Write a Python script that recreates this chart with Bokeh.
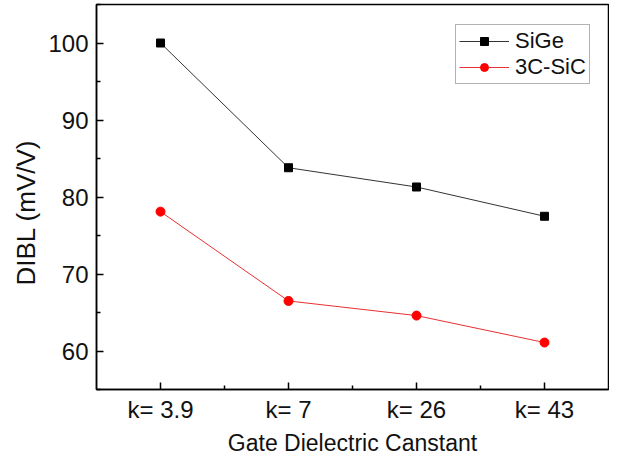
from bokeh.plotting import figure
from bokeh.models import FixedTicker, Legend, LegendItem, Range1d, Title
from bokeh.embed import file_html
from bokeh.resources import INLINE

categories = ["k= 3.9", "k= 7", "k= 26", "k= 43"]
sige = [100.0, 83.8, 81.3, 77.5]
sic = [78.1, 66.5, 64.6, 61.1]
y_ticks = [60, 70, 80, 90, 100]
y_minor = [55, 65, 75, 85, 95, 105]

xs = list(range(1, len(categories) + 1))
FONT = "Liberation Sans"

p = figure(frame_width=512, frame_height=385, output_backend="svg", toolbar_location=None,
           min_border_left=96, min_border_right=1, min_border_top=4, min_border_bottom=68,
           x_range=Range1d(0.5, len(categories) + 0.5), y_range=Range1d(55, 105))
p.background_fill_color = "white"
p.border_fill_color = "white"
p.outline_line_color = "black"
p.outline_line_width = 1.5
p.xgrid.visible = False
p.ygrid.visible = False

l1 = p.line(xs, sige, line_color="#333333", line_width=1)
m1 = p.scatter(xs, sige, marker="square", size=8, fill_color="black", line_color="black")
l2 = p.line(xs, sic, line_color="#e83030", line_width=1)
m2 = p.scatter(xs, sic, marker="circle", size=9, fill_color="#ff0000", line_color="#ff0000")

p.xaxis.ticker = FixedTicker(ticks=xs, minor_ticks=[x + 0.5 for x in xs[:-1]])
p.xaxis.major_label_overrides = {x: c for x, c in zip(xs, categories)}
p.yaxis.ticker = FixedTicker(ticks=y_ticks, minor_ticks=y_minor)

for ax in (p.xaxis[0], p.yaxis[0]):
    ax.axis_line_color = "black"
    ax.axis_line_width = 1.5
    ax.major_tick_in = 7
    ax.major_tick_out = 0
    ax.minor_tick_in = 4
    ax.minor_tick_out = 0
    ax.major_tick_line_color = "black"
    ax.minor_tick_line_color = "black"
    ax.major_tick_line_width = 1.5
    ax.minor_tick_line_width = 1.5
    ax.major_label_text_font = FONT
    ax.major_label_text_font_size = "24px"
    ax.major_label_text_color = "#111111"
    ax.axis_label_text_font = FONT
    ax.axis_label_text_font_style = "normal"
    ax.axis_label_text_color = "#111111"

p.xaxis.axis_label = "Gate Dielectric Canstant"
p.xaxis.axis_label_text_font_size = "23px"
p.xaxis.major_label_standoff = 6
p.xaxis.axis_label_standoff = 4
p.yaxis.major_label_standoff = 8

ytitle = Title(text="DIBL (mV/V)", align="left", offset=104, standoff=10,
               text_font=FONT, text_font_size="26px", text_font_style="normal",
               text_color="#111111")
p.add_layout(ytitle, "left")

legend = Legend(items=[LegendItem(label="SiGe", renderers=[l1, m1]),
                       LegendItem(label="3C-SiC", renderers=[l2, m2])],
                location=(359, 305))
legend.label_text_font = FONT
legend.label_text_font_size = "22px"
legend.label_text_color = "#111111"
legend.glyph_width = 50
legend.glyph_height = 20
legend.label_height = 20
legend.label_standoff = 6
legend.spacing = 0
legend.padding = 3
legend.margin = 0
legend.border_line_color = "#666666"
legend.border_line_width = 1
legend.background_fill_alpha = 1
p.add_layout(legend, "center")

open("out.html", "w").write(file_html(p, INLINE))
